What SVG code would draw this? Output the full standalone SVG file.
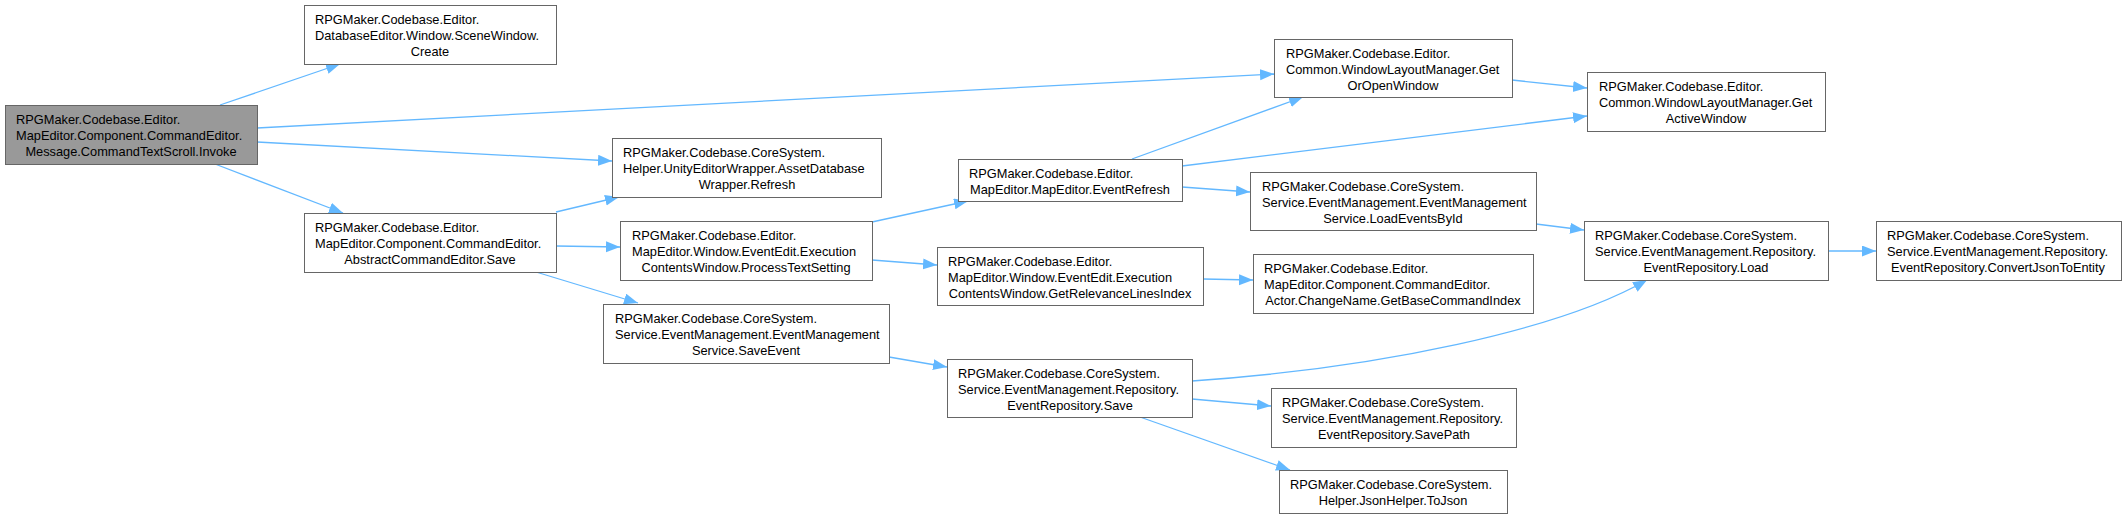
<svg xmlns="http://www.w3.org/2000/svg" width="2126" height="519" viewBox="0 0 2126 519">
<style>
  .node rect { fill: #ffffff; stroke: #666666; stroke-width: 1; }
  .root rect { fill: #999999; }
  text { font-family: "Liberation Sans", Arial, sans-serif; font-size: 12.8px; fill: #000000; }
  .m { text-anchor: middle; }
  .edge { stroke: #63b8ff; stroke-width: 1.3; fill: none; marker-end: url(#arr); }
</style>
<defs>
  <marker id="arr" markerUnits="userSpaceOnUse" markerWidth="16" markerHeight="12" refX="14" refY="5.5" orient="auto">
    <path d="M0,0 L14,5.5 L0,11 Z" fill="#63b8ff"/>
  </marker>
</defs>
<rect width="2126" height="519" fill="#ffffff"/>
<g id="edges">
  <path class="edge" d="M220,105 L340,64"/>
  <path class="edge" d="M257,128 L1274,74"/>
  <path class="edge" d="M257,142 L612,161"/>
  <path class="edge" d="M215,164 L343,213"/>
  <path class="edge" d="M556,212 L619,197"/>
  <path class="edge" d="M556,246 L620,247"/>
  <path class="edge" d="M536,272 L638,303"/>
  <path class="edge" d="M872,222 L968,201"/>
  <path class="edge" d="M872,260 L937,265"/>
  <path class="edge" d="M1132,159 L1303,97"/>
  <path class="edge" d="M1182,166 L1587,116"/>
  <path class="edge" d="M1182,187 L1250,192"/>
  <path class="edge" d="M1512,80 L1587,88"/>
  <path class="edge" d="M1536,224 L1584,230"/>
  <path class="edge" d="M1203,279 L1253,280"/>
  <path class="edge" d="M889,357 L947,367"/>
  <path class="edge" d="M1192,381 C1380,368 1560,330 1647,280"/>
  <path class="edge" d="M1192,399 L1271,406"/>
  <path class="edge" d="M1140,417 L1290,470"/>
  <path class="edge" d="M1828,251 L1876,251"/>
</g>
<g id="n1" class="node root">
  <rect x="5.5" y="105.5" width="252" height="59"/>
  <text x="16" y="123.5">RPGMaker.Codebase.Editor.</text>
  <text x="16" y="139.5">MapEditor.Component.CommandEditor.</text>
  <text class="m" x="131" y="155.5">Message.CommandTextScroll.Invoke</text>
</g>
<g id="n2" class="node">
  <rect x="304.5" y="5.5" width="252" height="59"/>
  <text x="315" y="23.5">RPGMaker.Codebase.Editor.</text>
  <text x="315" y="39.5">DatabaseEditor.Window.SceneWindow.</text>
  <text class="m" x="430" y="55.5">Create</text>
</g>
<g id="n3" class="node">
  <rect x="304.5" y="213.5" width="252" height="59"/>
  <text x="315" y="231.5">RPGMaker.Codebase.Editor.</text>
  <text x="315" y="247.5">MapEditor.Component.CommandEditor.</text>
  <text class="m" x="430" y="263.5">AbstractCommandEditor.Save</text>
</g>
<g id="n4" class="node">
  <rect x="612.5" y="138.5" width="269" height="59"/>
  <text x="623" y="156.5">RPGMaker.Codebase.CoreSystem.</text>
  <text x="623" y="172.5">Helper.UnityEditorWrapper.AssetDatabase</text>
  <text class="m" x="747" y="188.5">Wrapper.Refresh</text>
</g>
<g id="n5" class="node">
  <rect x="620.5" y="221.5" width="252" height="59"/>
  <text x="632" y="239.5">RPGMaker.Codebase.Editor.</text>
  <text x="632" y="255.5">MapEditor.Window.EventEdit.Execution</text>
  <text class="m" x="746" y="271.5">ContentsWindow.ProcessTextSetting</text>
</g>
<g id="n6" class="node">
  <rect x="603.5" y="304.5" width="286" height="59"/>
  <text x="615" y="322.5">RPGMaker.Codebase.CoreSystem.</text>
  <text x="615" y="338.5">Service.EventManagement.EventManagement</text>
  <text class="m" x="746" y="354.5">Service.SaveEvent</text>
</g>
<g id="n7" class="node">
  <rect x="958.5" y="159.5" width="224" height="42"/>
  <text x="969" y="177.5">RPGMaker.Codebase.Editor.</text>
  <text class="m" x="1070" y="193.5">MapEditor.MapEditor.EventRefresh</text>
</g>
<g id="n8" class="node">
  <rect x="937.5" y="247.5" width="266" height="58"/>
  <text x="948" y="265.5">RPGMaker.Codebase.Editor.</text>
  <text x="948" y="281.5">MapEditor.Window.EventEdit.Execution</text>
  <text class="m" x="1070" y="297.5">ContentsWindow.GetRelevanceLinesIndex</text>
</g>
<g id="n9" class="node">
  <rect x="947.5" y="359.5" width="245" height="58"/>
  <text x="958" y="377.5">RPGMaker.Codebase.CoreSystem.</text>
  <text x="958" y="393.5">Service.EventManagement.Repository.</text>
  <text class="m" x="1070" y="409.5">EventRepository.Save</text>
</g>
<g id="n10" class="node">
  <rect x="1274.5" y="39.5" width="238" height="58"/>
  <text x="1286" y="57.5">RPGMaker.Codebase.Editor.</text>
  <text x="1286" y="73.5">Common.WindowLayoutManager.Get</text>
  <text class="m" x="1393" y="89.5">OrOpenWindow</text>
</g>
<g id="n11" class="node">
  <rect x="1587.5" y="72.5" width="238" height="59"/>
  <text x="1599" y="90.5">RPGMaker.Codebase.Editor.</text>
  <text x="1599" y="106.5">Common.WindowLayoutManager.Get</text>
  <text class="m" x="1706" y="122.5">ActiveWindow</text>
</g>
<g id="n12" class="node">
  <rect x="1250.5" y="172.5" width="286" height="58"/>
  <text x="1262" y="190.5">RPGMaker.Codebase.CoreSystem.</text>
  <text x="1262" y="206.5">Service.EventManagement.EventManagement</text>
  <text class="m" x="1393" y="222.5">Service.LoadEventsById</text>
</g>
<g id="n13" class="node">
  <rect x="1253.5" y="254.5" width="280" height="59"/>
  <text x="1264" y="272.5">RPGMaker.Codebase.Editor.</text>
  <text x="1264" y="288.5">MapEditor.Component.CommandEditor.</text>
  <text class="m" x="1393" y="304.5">Actor.ChangeName.GetBaseCommandIndex</text>
</g>
<g id="n14" class="node">
  <rect x="1271.5" y="388.5" width="245" height="59"/>
  <text x="1282" y="406.5">RPGMaker.Codebase.CoreSystem.</text>
  <text x="1282" y="422.5">Service.EventManagement.Repository.</text>
  <text class="m" x="1394" y="438.5">EventRepository.SavePath</text>
</g>
<g id="n15" class="node">
  <rect x="1279.5" y="470.5" width="228" height="43"/>
  <text x="1290" y="488.5">RPGMaker.Codebase.CoreSystem.</text>
  <text class="m" x="1393" y="504.5">Helper.JsonHelper.ToJson</text>
</g>
<g id="n16" class="node">
  <rect x="1584.5" y="221.5" width="244" height="59"/>
  <text x="1595" y="239.5">RPGMaker.Codebase.CoreSystem.</text>
  <text x="1595" y="255.5">Service.EventManagement.Repository.</text>
  <text class="m" x="1706" y="271.5">EventRepository.Load</text>
</g>
<g id="n17" class="node">
  <rect x="1876.5" y="221.5" width="245" height="59"/>
  <text x="1887" y="239.5">RPGMaker.Codebase.CoreSystem.</text>
  <text x="1887" y="255.5">Service.EventManagement.Repository.</text>
  <text class="m" x="1998" y="271.5">EventRepository.ConvertJsonToEntity</text>
</g>
</svg>
